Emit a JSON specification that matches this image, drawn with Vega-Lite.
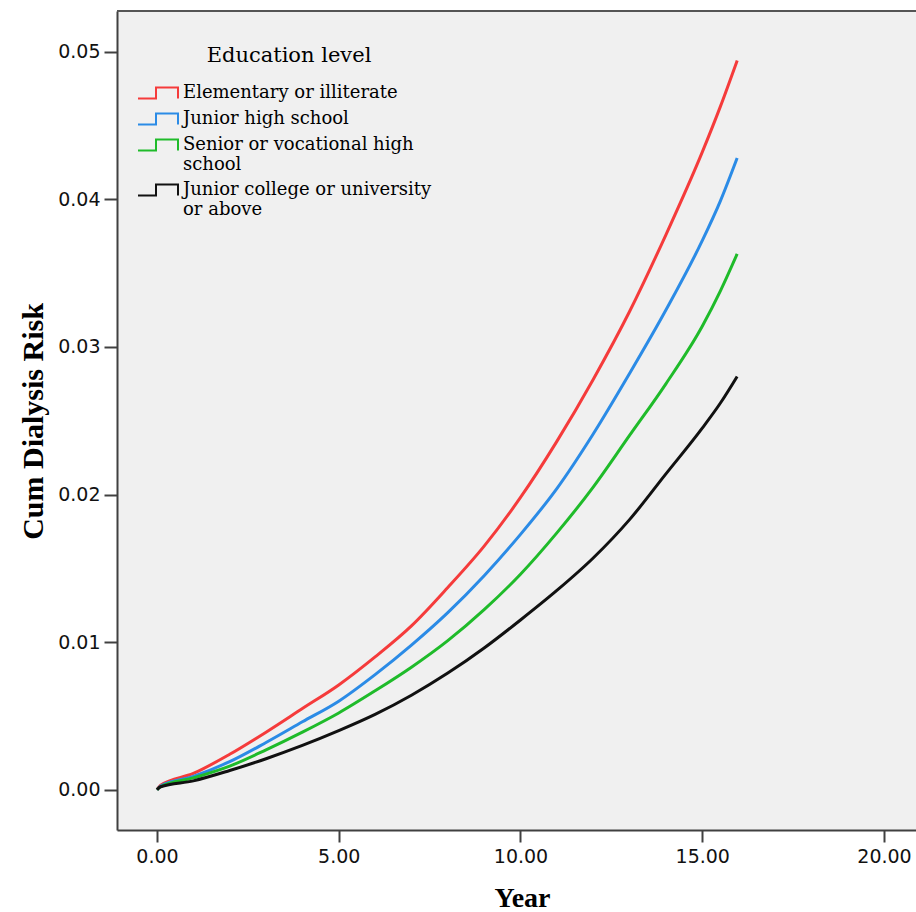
{
  "$schema": "https://vega.github.io/schema/vega-lite/v6.json",
  "autosize": {"type": "none"},
  "padding": {"left": 117, "top": 11, "right": 0, "bottom": 82},
  "width": 799,
  "height": 819,
  "background": "white",
  "config": {
    "view": {"fill": "#f0f0f0", "stroke": null}
  },
  "data": {
    "values": [
      {"year": 0, "risk": 0, "edu": "Elementary or illiterate"},
      {"year": 0.1, "risk": 0.0003, "edu": "Elementary or illiterate"},
      {"year": 1, "risk": 0.0011, "edu": "Elementary or illiterate"},
      {"year": 2, "risk": 0.0024, "edu": "Elementary or illiterate"},
      {"year": 3, "risk": 0.0039, "edu": "Elementary or illiterate"},
      {"year": 4, "risk": 0.0055, "edu": "Elementary or illiterate"},
      {"year": 5, "risk": 0.0071, "edu": "Elementary or illiterate"},
      {"year": 6, "risk": 0.0090, "edu": "Elementary or illiterate"},
      {"year": 7, "risk": 0.0111, "edu": "Elementary or illiterate"},
      {"year": 8, "risk": 0.0137, "edu": "Elementary or illiterate"},
      {"year": 9, "risk": 0.0165, "edu": "Elementary or illiterate"},
      {"year": 10, "risk": 0.0198, "edu": "Elementary or illiterate"},
      {"year": 11, "risk": 0.0236, "edu": "Elementary or illiterate"},
      {"year": 12, "risk": 0.0278, "edu": "Elementary or illiterate"},
      {"year": 13, "risk": 0.0324, "edu": "Elementary or illiterate"},
      {"year": 14, "risk": 0.0376, "edu": "Elementary or illiterate"},
      {"year": 15, "risk": 0.0432, "edu": "Elementary or illiterate"},
      {"year": 15.5, "risk": 0.0463, "edu": "Elementary or illiterate"},
      {"year": 15.96, "risk": 0.0494, "edu": "Elementary or illiterate"},
      {"year": 0, "risk": 0, "edu": "Junior high school"},
      {"year": 0.1, "risk": 0.00025, "edu": "Junior high school"},
      {"year": 1, "risk": 0.0009, "edu": "Junior high school"},
      {"year": 2, "risk": 0.0019, "edu": "Junior high school"},
      {"year": 3, "risk": 0.0032, "edu": "Junior high school"},
      {"year": 4, "risk": 0.0046, "edu": "Junior high school"},
      {"year": 5, "risk": 0.0060, "edu": "Junior high school"},
      {"year": 6, "risk": 0.0078, "edu": "Junior high school"},
      {"year": 7, "risk": 0.0098, "edu": "Junior high school"},
      {"year": 8, "risk": 0.0120, "edu": "Junior high school"},
      {"year": 9, "risk": 0.0145, "edu": "Junior high school"},
      {"year": 10, "risk": 0.0173, "edu": "Junior high school"},
      {"year": 11, "risk": 0.0204, "edu": "Junior high school"},
      {"year": 12, "risk": 0.0241, "edu": "Junior high school"},
      {"year": 13, "risk": 0.0282, "edu": "Junior high school"},
      {"year": 14, "risk": 0.0325, "edu": "Junior high school"},
      {"year": 15, "risk": 0.0372, "edu": "Junior high school"},
      {"year": 15.5, "risk": 0.0399, "edu": "Junior high school"},
      {"year": 15.96, "risk": 0.0428, "edu": "Junior high school"},
      {"year": 0, "risk": 0, "edu": "Senior or vocational high school"},
      {"year": 0.1, "risk": 0.0002, "edu": "Senior or vocational high school"},
      {"year": 1, "risk": 0.0008, "edu": "Senior or vocational high school"},
      {"year": 2, "risk": 0.0016, "edu": "Senior or vocational high school"},
      {"year": 3, "risk": 0.0027, "edu": "Senior or vocational high school"},
      {"year": 4, "risk": 0.0039, "edu": "Senior or vocational high school"},
      {"year": 5, "risk": 0.0052, "edu": "Senior or vocational high school"},
      {"year": 6, "risk": 0.0067, "edu": "Senior or vocational high school"},
      {"year": 7, "risk": 0.0083, "edu": "Senior or vocational high school"},
      {"year": 8, "risk": 0.0101, "edu": "Senior or vocational high school"},
      {"year": 9, "risk": 0.0122, "edu": "Senior or vocational high school"},
      {"year": 10, "risk": 0.0146, "edu": "Senior or vocational high school"},
      {"year": 11, "risk": 0.0174, "edu": "Senior or vocational high school"},
      {"year": 12, "risk": 0.0205, "edu": "Senior or vocational high school"},
      {"year": 13, "risk": 0.0240, "edu": "Senior or vocational high school"},
      {"year": 14, "risk": 0.0275, "edu": "Senior or vocational high school"},
      {"year": 15, "risk": 0.0314, "edu": "Senior or vocational high school"},
      {"year": 15.5, "risk": 0.0338, "edu": "Senior or vocational high school"},
      {"year": 15.96, "risk": 0.0363, "edu": "Senior or vocational high school"},
      {"year": 0, "risk": 0, "edu": "Junior college or university or above"},
      {"year": 0.1, "risk": 0.0002, "edu": "Junior college or university or above"},
      {"year": 1, "risk": 0.0006, "edu": "Junior college or university or above"},
      {"year": 2, "risk": 0.0013, "edu": "Junior college or university or above"},
      {"year": 3, "risk": 0.0021, "edu": "Junior college or university or above"},
      {"year": 4, "risk": 0.0030, "edu": "Junior college or university or above"},
      {"year": 5, "risk": 0.0040, "edu": "Junior college or university or above"},
      {"year": 6, "risk": 0.0051, "edu": "Junior college or university or above"},
      {"year": 7, "risk": 0.0064, "edu": "Junior college or university or above"},
      {"year": 8, "risk": 0.0079, "edu": "Junior college or university or above"},
      {"year": 9, "risk": 0.0096, "edu": "Junior college or university or above"},
      {"year": 10, "risk": 0.0115, "edu": "Junior college or university or above"},
      {"year": 11, "risk": 0.0135, "edu": "Junior college or university or above"},
      {"year": 12, "risk": 0.0157, "edu": "Junior college or university or above"},
      {"year": 13, "risk": 0.0183, "edu": "Junior college or university or above"},
      {"year": 14, "risk": 0.0214, "edu": "Junior college or university or above"},
      {"year": 15, "risk": 0.0245, "edu": "Junior college or university or above"},
      {"year": 15.5, "risk": 0.0262, "edu": "Junior college or university or above"},
      {"year": 15.96, "risk": 0.0280, "edu": "Junior college or university or above"}
    ]
  },
  "layer": [
    {
      "mark": {"type": "rule", "color": "#555555", "strokeWidth": 2},
      "encoding": {"y": {"datum": 0.05276, "type": "quantitative"}}
    },
    {
      "mark": {"type": "line", "strokeWidth": 3, "clip": true, "interpolate": "monotone"},
      "encoding": {
        "x": {
          "field": "year",
          "type": "quantitative",
          "scale": {"domain": [-1.1, 20.88], "nice": false, "zero": false},
          "axis": {
            "title": "Year",
            "values": [0, 5, 10, 15, 20],
            "format": ".2f",
            "grid": false,
            "domainColor": "#404040",
            "domainWidth": 2,
            "tickColor": "#404040",
            "tickWidth": 2,
            "tickSize": 12,
            "labelPadding": 5,
            "labelFont": "DejaVu Sans",
            "labelFontSize": 19,
            "labelColor": "#111111",
            "titleFont": "Liberation Serif",
            "titleFontSize": 28,
            "titleFontWeight": "bold",
            "titleColor": "#000000",
            "titleX": 405,
            "titleY": 76,
            "titleBaseline": "alphabetic"
          }
        },
        "y": {
          "field": "risk",
          "type": "quantitative",
          "scale": {"domain": [-0.00273, 0.05276], "nice": false, "zero": false},
          "axis": {
            "title": "Cum Dialysis Risk",
            "values": [0, 0.01, 0.02, 0.03, 0.04, 0.05],
            "format": ".2f",
            "grid": false,
            "domainColor": "#404040",
            "domainWidth": 2,
            "tickColor": "#404040",
            "tickWidth": 2,
            "tickSize": 13,
            "labelPadding": 4,
            "labelFont": "DejaVu Sans",
            "labelFontSize": 19,
            "labelColor": "#111111",
            "titleFont": "Liberation Serif",
            "titleFontSize": 30,
            "titleFontWeight": "bold",
            "titleColor": "#000000",
            "titleAngle": -90,
            "titleX": -84,
            "titleY": 410,
            "titleAlign": "center",
            "titleBaseline": "middle"
          }
        },
        "color": {
          "field": "edu",
          "type": "nominal",
          "scale": {
            "domain": ["Elementary or illiterate", "Junior high school", "Senior or vocational high school", "Junior college or university or above"],
            "range": ["#f53b3b", "#2b8be6", "#1fbb2a", "#111111"]
          },
          "legend": {
            "title": "Education level",
            "orient": "none",
            "legendX": 30,
            "legendY": 34,
            "padding": 0,
            "titleFont": "DejaVu Serif",
            "titleFontSize": 21,
            "titleFontWeight": "normal",
            "titleColor": "#000000",
            "titleAnchor": "middle",
            "titlePadding": 16,
            "labelFont": "DejaVu Serif",
            "labelFontSize": 18,
            "labelColor": "#000000",
            "labelLimit": 400,
            "labelOffset": 14,
            "rowPadding": 5,
            "symbolType": "M-2,0.54L-0.2,0.54L-0.2,-0.54L2,-0.54L2,0.54",
            "symbolSize": 400,
            "symbolStrokeWidth": 2,
            "symbolFillColor": "transparent",
            "labelExpr": "datum.label == 'Senior or vocational high school' ? ['Senior or vocational high', 'school'] : datum.label == 'Junior college or university or above' ? ['Junior college or university', 'or above'] : datum.label"
          }
        }
      }
    }
  ]
}
